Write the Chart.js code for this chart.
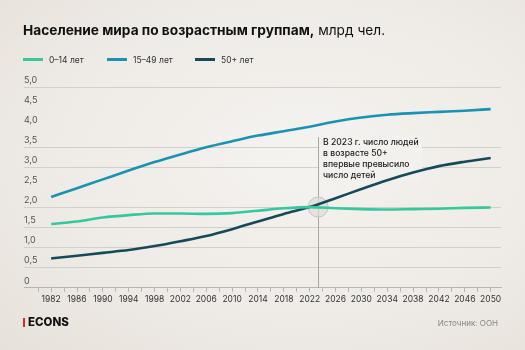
<!DOCTYPE html>
<html>
<head>
<meta charset="utf-8">
<script src="https://cdn.jsdelivr.net/npm/chart.js@4/dist/chart.umd.min.js"></script>
<style>
  html, body { margin: 0; padding: 0; }
  body {
    width: 525px; height: 350px; overflow: hidden; position: relative;
    font-family: Inter, "Noto Sans", sans-serif;
    background: radial-gradient(ellipse at 58% 45%, #f5f3f0 0%, #efebe6 55%, #e7e1da 100%);
  }
  #wrap { position: absolute; left: 0; top: 0; width: 525px; height: 350px; }
  .title { position: absolute; left: 23px; top: 22px; font-size: 13.7px; color: #111; white-space: nowrap; }
  .title b { font-weight: 700; }
  .legend { position: absolute; top: 55px; left: 23px; font-size: 8.5px; color: #333; }
  .legend span { position: absolute; white-space: nowrap; top: 0; }
  .legend i { display: inline-block; width: 20px; height: 3px; vertical-align: middle; margin-right: 6px; position: relative; top: -1px; }
  .brand { position: absolute; left: 23px; top: 315px; font-size: 11.5px; font-weight: 800; color: #111; }
  .brand i { display: inline-block; width: 2px; height: 9px; background: #e3262b; margin-right: 3px; vertical-align: -1px; }
  .source { position: absolute; right: 27px; top: 318px; font-size: 8px; color: #8a8784; }
</style>
</head>
<body>
<div id="wrap"><canvas id="myChart" width="525" height="350"></canvas></div>
<div class="title"><b>Население мира по возрастным группам,</b> млрд чел.</div>
<div class="legend">
  <span style="left:0"><i style="background:#34c89f"></i>0–14 лет</span>
  <span style="left:84px"><i style="background:#1a92b4"></i>15–49 лет</span>
  <span style="left:172px"><i style="background:#154a5a"></i>50+ лет</span>
</div>
<div class="brand"><i></i>ECONS</div>
<div class="source">Источник: ООН</div>
<script>
const years = [1982, 1986, 1990, 1994, 1998, 2002, 2006, 2010, 2014, 2018, 2022, 2026, 2030, 2034, 2038, 2042, 2046, 2050]
const kids = [1.59, 1.65, 1.75, 1.81, 1.85, 1.85, 1.84, 1.86, 1.92, 1.98, 2.01, 1.98, 1.96, 1.95, 1.96, 1.97, 1.99, 2.00]
const adults = [2.26, 2.48, 2.70, 2.92, 3.13, 3.32, 3.50, 3.65, 3.79, 3.90, 4.01, 4.14, 4.24, 4.31, 4.35, 4.38, 4.41, 4.45]
const older = [0.73, 0.80, 0.87, 0.94, 1.04, 1.16, 1.29, 1.46, 1.65, 1.84, 2.01, 2.23, 2.46, 2.68, 2.87, 3.03, 3.14, 3.23]
const tickYears = [1980, 1982, 1984, 1986, 1988, 1990, 1992, 1994, 1996, 1998, 2000, 2002, 2004, 2006, 2008, 2010, 2012, 2014, 2016, 2018, 2020, 2022, 2024, 2026, 2028, 2030, 2032, 2034, 2036, 2038, 2040, 2042, 2044, 2046, 2048, 2050]
const labelYears = [1982, 1986, 1990, 1994, 1998, 2002, 2006, 2010, 2014, 2018, 2022, 2026, 2030, 2034, 2038, 2042, 2046, 2050]
const hiddenGrid = [4.5, 4.0, 2.5]
const noteYear = 2023.3
const noteValue = 2.01
const noteLines = ['В 2023 г. число людей', 'в возрасте 50+', 'впервые превысило', 'число детей']

const toPoints = (vals) => vals.map((v, i) => ({ x: years[i], y: v }))

const notePlugin = {
  id: 'note',
  beforeDatasetsDraw(chart) {
    const ctx = chart.ctx
    const x = chart.scales.x.getPixelForValue(noteYear)
    const y = chart.scales.y.getPixelForValue(noteValue)
    const bottom = chart.chartArea.bottom
    ctx.save()
    // text background hides grid lines
    ctx.fillStyle = '#f3f1ee'
    ctx.fillRect(x + 1, 135, 103, 46)
    ctx.strokeStyle = '#aaa6a1'
    ctx.lineWidth = 1
    ctx.beginPath()
    ctx.moveTo(Math.round(x) + 0.5, 137)
    ctx.lineTo(Math.round(x) + 0.5, bottom)
    ctx.stroke()
    ctx.beginPath()
    ctx.arc(x, y, 10, 0, Math.PI * 2)
    ctx.fillStyle = 'rgba(222, 219, 215, 0.7)'
    ctx.fill()
    ctx.strokeStyle = '#c6c2bd'
    ctx.stroke()
    ctx.fillStyle = '#1a1a1a'
    ctx.font = '500 8.6px Inter, "Noto Sans", sans-serif'
    ctx.textBaseline = 'middle'
    noteLines.forEach((t, i) => ctx.fillText(t, x + 5, 142 + i * 11))
    ctx.restore()
  }
}

const ctx = document.getElementById('myChart')
new Chart(ctx, {
  type: 'line',
  data: {
    datasets: [
      { label: '0–14 лет', data: toPoints(kids), borderColor: '#34c89f' },
      { label: '15–49 лет', data: toPoints(adults), borderColor: '#1a92b4' },
      { label: '50+ лет', data: toPoints(older), borderColor: '#154a5a' }
    ]
  },
  options: {
    responsive: false,
    animation: false,
    layout: { padding: { left: 24, right: 24, top: 87, bottom: 42 } },
    elements: {
      line: { borderWidth: 2.6, tension: 0.4, cubicInterpolationMode: 'monotone' },
      point: { radius: 0 }
    },
    plugins: { legend: { display: false }, tooltip: { enabled: false } },
    scales: {
      x: {
        type: 'linear',
        min: 1977.8,
        max: 2051.6,
        afterBuildTicks: (axis) => { axis.ticks = tickYears.map(v => ({ value: v })) },
        grid: { drawOnChartArea: false, drawTicks: true, tickLength: 4, color: '#b8b4ae' },
        border: { color: '#b8b4ae' },
        ticks: {
          autoSkip: false, maxRotation: 0, padding: 3, color: '#333',
          font: { size: 8.5, family: 'Inter, "Noto Sans", sans-serif' },
          callback: (v) => labelYears.includes(v) ? String(v) : ''
        }
      },
      y: {
        min: 0,
        max: 5,
        grid: {
          drawTicks: false,
          color: (c) => hiddenGrid.includes(c.tick.value) || c.tick.value === 0 ? 'rgba(0,0,0,0)' : '#d3cfc9'
        },
        border: { display: false },
        ticks: {
          stepSize: 0.5, mirror: true, padding: 0, labelOffset: -7, color: '#555',
          font: { size: 9, family: 'Inter, "Noto Sans", sans-serif' },
          callback: (v) => v === 0 ? '0' : v.toFixed(1).replace('.', ',')
        }
      }
    }
  },
  plugins: [notePlugin]
})
</script>
</body>
</html>
